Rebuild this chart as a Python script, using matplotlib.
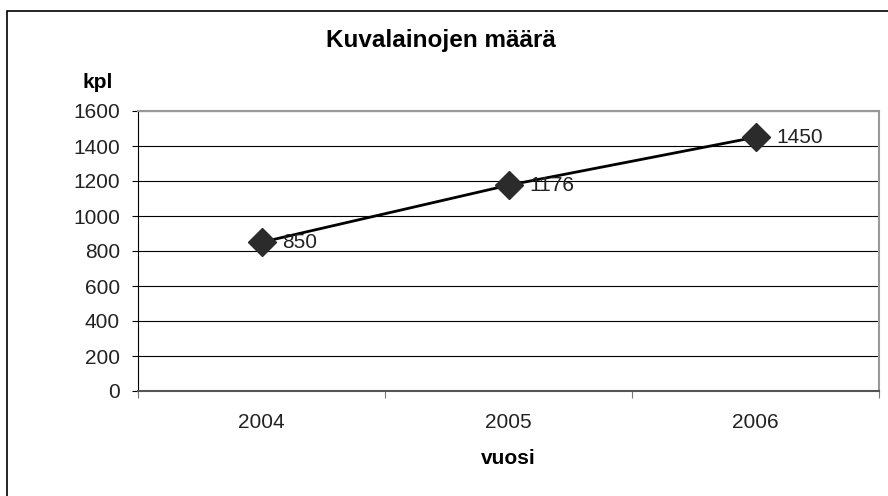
import matplotlib
matplotlib.use('Agg')
from matplotlib import pyplot as plt
from matplotlib.patches import Rectangle

plt.rcParams['font.family'] = ['Liberation Sans', 'DejaVu Sans']

years = ['2004', '2005', '2006']
counts = [850, 1176, 1450]
title = 'Kuvalainojen määrä'

fig = plt.figure(figsize=(8.88, 4.96), dpi=100)

# outer chart border (runs off the image on right/bottom)
fig.patches.append(Rectangle((7 / 888, -0.1), 1.2, 1.1 - 11 / 496, transform=fig.transFigure,
                             fill=False, edgecolor='black', linewidth=1.2))

ax = fig.add_axes([138 / 888, 105 / 496, 741 / 888, 280 / 496])
xs = list(range(len(years)))
ax.plot(xs, counts, color='black', linewidth=2, marker='D', markersize=14,
        markerfacecolor='#2b2b2b', markeredgecolor='#2b2b2b', zorder=3)
for x, v in zip(xs, counts):
    ax.annotate(str(v), (x, v), xytext=(15, 0), textcoords='offset points',
                va='center', ha='left', fontsize=15, color='#222222')

ax.set_xlim(-0.5, 2.5)
ax.set_ylim(0, 1600)
ax.set_yticks(range(0, 1601, 200))
ax.set_xticks([-0.5, 0.5, 1.5, 2.5])
ax.set_xticklabels([])
ax.set_xticks(xs, minor=True)
ax.set_xticklabels(years, minor=True)
ax.tick_params(axis='x', which='minor', length=0, pad=16, labelsize=15, labelcolor='#222222')
ax.tick_params(axis='x', which='major', direction='out', length=5, color='#777777')
ax.tick_params(axis='y', direction='out', length=4.5, labelsize=15, pad=8.5, labelcolor='#222222')
ax.grid(axis='y', color='black', linewidth=0.8)
ax.set_axisbelow(True)
for side in ['top', 'right']:
    ax.spines[side].set_color('#999999')
    ax.spines[side].set_linewidth(1.5)
ax.spines['left'].set_color('black')
ax.spines['bottom'].set_color('#555555')
ax.spines['bottom'].set_linewidth(1.5)

fig.text(441 / 888, 1 - 40 / 496, title, ha='center', va='center', fontsize=17.5, fontweight='bold')
fig.text(98 / 888, 1 - 82 / 496, 'kpl', ha='center', va='center', fontsize=15, fontweight='bold')
fig.text(508 / 888, 1 - 459 / 496, 'vuosi', ha='center', va='center', fontsize=15, fontweight='bold')

fig.savefig('out.png', dpi=100)
